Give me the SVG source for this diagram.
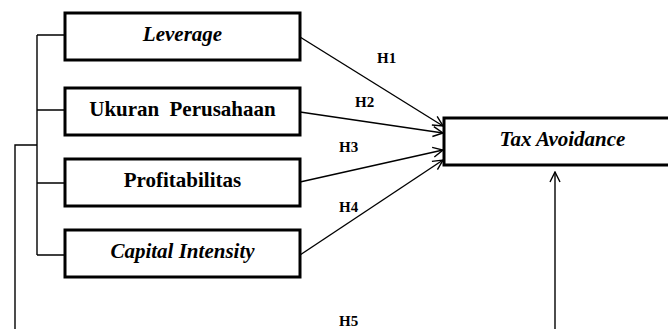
<svg xmlns="http://www.w3.org/2000/svg" width="668" height="329" viewBox="0 0 668 329">
<style>
.box{fill:#fff;stroke:#000;stroke-width:3}
.lbl{font-family:'Liberation Serif','Times New Roman',Tinos,'DejaVu Serif',serif;font-weight:700;font-size:21px;fill:#000;text-anchor:middle}
.it{font-style:italic}
.h{font-family:'Liberation Serif','Times New Roman',Tinos,'DejaVu Serif',serif;font-weight:700;font-size:15px;fill:#000}
.ln{fill:none;stroke:#000;stroke-width:1.4}
</style>
<defs>
<marker id="arr" viewBox="0 0 12 12" refX="11" refY="6" markerWidth="12" markerHeight="12" markerUnits="userSpaceOnUse" orient="auto">
<path d="M1,1 L11,6 L1,11" fill="none" stroke="#000" stroke-width="1.4"/>
</marker>
</defs>
<g id="connectors">
<path class="ln" d="M37,35 V255 M37,35 H65 M37,110 H65 M37,183 H65 M37,255 H65 M37,145 H15 V329"/>
<line class="ln" x1="300" y1="37" x2="443" y2="126" marker-end="url(#arr)"/>
<line class="ln" x1="300" y1="112" x2="443" y2="133" marker-end="url(#arr)"/>
<line class="ln" x1="300" y1="182" x2="443" y2="150" marker-end="url(#arr)"/>
<line class="ln" x1="300" y1="255" x2="443" y2="160" marker-end="url(#arr)"/>
<line class="ln" x1="555" y1="329" x2="555" y2="172" marker-end="url(#arr)"/>
<text class="h" x="377" y="63">H1</text>
<text class="h" x="355" y="107">H2</text>
<text class="h" x="339" y="152">H3</text>
<text class="h" x="339" y="212">H4</text>
<text class="h" x="339" y="326">H5</text>
</g>
<g id="leverage">
<rect class="box" x="65" y="13" width="235" height="47"/>
<text class="lbl it" x="182.5" y="41">Leverage</text>
</g>
<g id="ukuran">
<rect class="box" x="65" y="88" width="235" height="47"/>
<text class="lbl" x="182.5" y="116" word-spacing="5">Ukuran Perusahaan</text>
</g>
<g id="profitabilitas">
<rect class="box" x="65" y="159" width="235" height="47"/>
<text class="lbl" x="182.5" y="187">Profitabilitas</text>
</g>
<g id="capital">
<rect class="box" x="65" y="230" width="235" height="47"/>
<text class="lbl it" x="182.5" y="258">Capital Intensity</text>
</g>
<g id="tax">
<rect class="box" x="444" y="118" width="238" height="47"/>
<text class="lbl it" x="562.5" y="146">Tax Avoidance</text>
</g>
</svg>
